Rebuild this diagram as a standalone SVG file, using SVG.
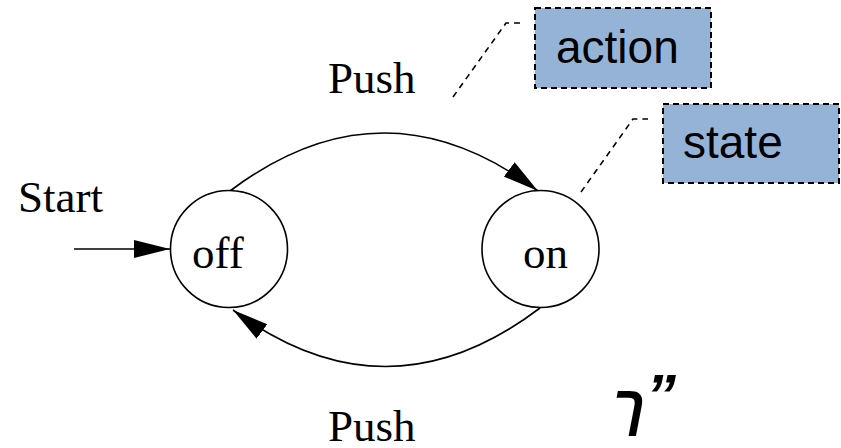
<svg xmlns="http://www.w3.org/2000/svg" width="841" height="448" viewBox="0 0 841 448">
<style>
.state-c{fill:#fff;stroke:#000;stroke-width:1.6}
.lbl{font-family:"Liberation Serif","Times New Roman",serif;font-size:45px;fill:#000}
.edge{fill:none;stroke:#000;stroke-width:1.6}
.note{fill:#95B3D7;stroke:#000;stroke-width:2;stroke-dasharray:6 4}
.notetxt{font-family:"Liberation Sans",Arial,sans-serif;font-size:46px;fill:#000}
.leader{fill:none;stroke:#000;stroke-width:1.6;stroke-dasharray:6 5}
</style>
<defs>
<marker id="arr" markerUnits="userSpaceOnUse" markerWidth="40" markerHeight="20" refX="36" refY="9" orient="auto">
<path d="M0,0 L36,9 L0,18 z" fill="#000"/>
</marker>
</defs>
<rect width="841" height="448" fill="#fff"/>
<g id="connectors">
<line class="edge" x1="74" y1="249" x2="170" y2="249" marker-end="url(#arr)"/>
<path class="edge" d="M230,191 Q384,75 538,191" marker-end="url(#arr)"/>
<path class="edge" d="M540,308 Q387,424 233,310" marker-end="url(#arr)"/>
<polyline class="leader" points="453,97 506,23 520,23"/>
<polyline class="leader" points="581,192 633,119 648,119"/>
</g>
<g id="off">
<circle class="state-c" cx="229" cy="249" r="58.5"/>
<text class="lbl" x="192" y="268" font-size="47">off</text>
</g>
<g id="on">
<circle class="state-c" cx="540.5" cy="249" r="58.5"/>
<text class="lbl" x="523" y="268">on</text>
</g>
<g id="labels">
<text class="lbl" x="18" y="212">Start</text>
<text class="lbl" x="328" y="93">Push</text>
<text class="lbl" x="328" y="441">Push</text>
</g>
<g id="action">
<rect class="note" x="535" y="8" width="176" height="80"/>
<text class="notetxt" x="556" y="63">action</text>
</g>
<g id="state">
<rect class="note" x="663" y="104" width="176" height="79"/>
<text class="notetxt" x="683" y="158">state</text>
</g>
<g id="mark">
<text font-family="'Liberation Sans','DejaVu Sans',sans-serif" font-weight="bold" font-style="italic" font-size="56" fill="#000"><tspan x="613" y="425">ך</tspan><tspan x="646" y="416" font-size="60">”</tspan></text>
</g>
</svg>
